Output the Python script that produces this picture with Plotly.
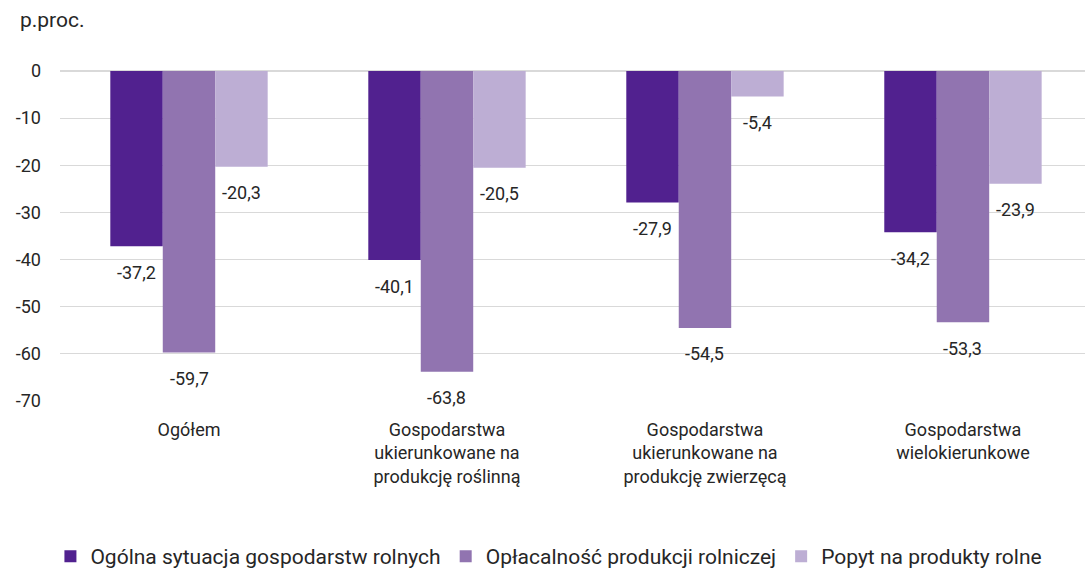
import plotly.graph_objects as go

# Dane (p.proc.)
kategorie = [
    "Ogółem",
    "Gospodarstwa<br>ukierunkowane na<br>produkcję roślinną",
    "Gospodarstwa<br>ukierunkowane na<br>produkcję zwierzęcą",
    "Gospodarstwa<br>wielokierunkowe",
]
ogolna = [-37.2, -40.1, -27.9, -34.2]
oplacalnosc = [-59.7, -63.8, -54.5, -53.3]
popyt = [-20.3, -20.5, -5.4, -23.9]
y_ticks = [0, -10, -20, -30, -40, -50, -60, -70]

serie = [
    ("Ogólna sytuacja gospodarstw rolnych", ogolna, "#51218f"),
    ("Opłacalność produkcji rolniczej", oplacalnosc, "#9174b0"),
    ("Popyt na produkty rolne", popyt, "#bdaed4"),
]

FONT = "Roboto, Noto Sans, sans-serif"
TXT = "#262626"
BARGAP = 0.39
X_RANGE = [-0.5, 3.473]
PLOT_W = 1085 - 60
bar_px = PLOT_W / (X_RANGE[1] - X_RANGE[0]) * (1 - BARGAP) / len(serie)

def fmt(v):
    return f"{v:.1f}".replace(".", ",")

fig = go.Figure()
annotations = []
for i, (nazwa, wartosci, kolor) in enumerate(serie):
    fig.add_trace(go.Bar(x=kategorie, y=wartosci, name=nazwa,
                         marker_color=kolor, marker_line_width=0))
    for k, v in zip(kategorie, wartosci):
        annotations.append({
            "x": k, "y": v, "text": fmt(v), "showarrow": False,
            "xshift": (i - 1) * bar_px, "yshift": -26,
            "yanchor": "middle", "font": {"size": 18, "color": TXT},
        })

annotations.append({"text": "p.proc.", "xref": "paper", "yref": "paper",
                    "x": -0.041, "y": 1.155, "xanchor": "left", "yanchor": "middle",
                    "showarrow": False, "font": {"size": 21, "color": TXT}})

fig.update_layout(
    width=1085, height=577,
    paper_bgcolor="white", plot_bgcolor="white",
    font={"family": FONT, "size": 18, "color": TXT},
    barmode="group", bargap=BARGAP, bargroupgap=0,
    margin={"l": 60, "r": 0, "t": 71, "b": 176},
    showlegend=True,
    legend={"orientation": "h", "x": 0.477, "xanchor": "center", "y": -0.472,
            "yanchor": "middle", "font": {"size": 21}, "itemwidth": 30,
            "traceorder": "normal"},
    annotations=annotations,
)
fig.update_yaxes(range=[-70, 0], tickvals=y_ticks,
                 ticktext=[str(t) for t in y_ticks],
                 showgrid=True, gridcolor="#d9d9d9", gridwidth=1,
                 zeroline=True, zerolinecolor="#d9d9d9",
                 ticklabelstandoff=18, tickfont={"size": 18})
fig.update_xaxes(range=X_RANGE, showline=False, ticklabelstandoff=16,
                 tickfont={"size": 18})

fig.write_html("out.html", config={"displayModeBar": False},
               post_script="document.body.style.margin='0';")
